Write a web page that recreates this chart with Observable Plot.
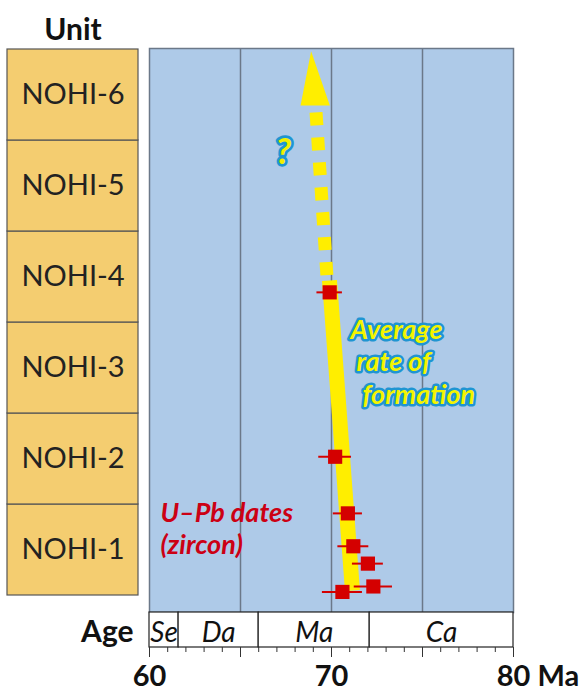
<!DOCTYPE html>
<html><head><meta charset="utf-8">
<script src="https://cdn.jsdelivr.net/npm/d3@7"></script>
<script src="https://cdn.jsdelivr.net/npm/@observablehq/plot@0.6"></script>
<style>
body{margin:0;background:#fff;}
#wrap{position:relative;width:587px;height:694px;font-family:Lato,sans-serif;}
#wrap svg{position:absolute;left:0;background:transparent;overflow:visible;}
</style></head><body><div id="wrap"></div>
<script>
// Stratigraphic units (bottom to top)
const units = ["NOHI-1","NOHI-2","NOHI-3","NOHI-4","NOHI-5","NOHI-6"];
// U–Pb zircon dates: age (Ma), error (Ma), stratigraphic level (unit index)
const dateAge   = [69.9, 70.2, 70.9, 71.2, 72.0, 72.3, 70.6];
const dateErr   = [0.7, 0.9, 0.8, 0.85, 0.85, 1.05, 1.1];
const dateLevel = [3.33, 1.53, 0.91, 0.55, 0.36, 0.11, 0.05];
// Average rate of formation (solid part, dashed extrapolation, arrow head)
const trendAge = [71.15, 69.89];
const trendLevel = [0.066, 3.46];
const dashAge = [69.15, 69.76];
const dashLevel = [5.30, 3.48];
const arrowAge = [68.88, 68.30, 69.91];
const arrowLevel = [5.97, 5.376, 5.376];
// Geologic stages along the age bar
const periodName = ["Se","Da","Ma","Ca"];
const periodStart = [60, 61.6, 66.0, 72.1];
const periodEnd = [61.6, 66.0, 72.1, 80];
// Axis
const majorTicks = [60,65,70,75,80];
const majorLabels = ["60","","70","","80"];
const minorTicks = [60,61,62,63,64,65,66,67,68,69,70,71,72,73,74,75,76,77,78,79,80];
const gridAges = [65,70,75];
// Annotations
const noteText = ["Average\n rate of\n  formation"];
const noteAge = [71.05];
const noteLevel = [2.58];
const redText = ["U\u2013Pb dates\n(zircon)"];
const redAge = [60.6];
const redLevel = [0.755];
const qText = ["?"];
const qAge = [67.36];
const qLevel = [4.86];

const dates = dateAge.map((a,i)=>({age:a, err:dateErr[i], level:dateLevel[i]}));
const trend = trendAge.map((a,i)=>({age:a, level:trendLevel[i]}));
const dash = dashAge.map((a,i)=>({age:a, level:dashLevel[i]}));
const arrow = arrowAge.map((a,i)=>({age:a, level:arrowLevel[i]}));
const periods = periodName.map((n,i)=>({name:n, start:periodStart[i], end:periodEnd[i]}));
const notes = noteText.map((t,i)=>({text:t, age:noteAge[i], level:noteLevel[i]}));
const reds = redText.map((t,i)=>({text:t, age:redAge[i], level:redLevel[i]}));
const qs = qText.map((t,i)=>({text:t, age:qAge[i], level:qLevel[i]}));

const blue = "#aecae8", grid = "#6b7889", yellow = "#ffee00", red = "#d40000";
const font = "Lato, sans-serif";

const main = Plot.plot({
  width: 587, height: 612,
  marginLeft: 149, marginRight: 74, marginTop: 48, marginBottom: 0,
  x: {domain: [60, 80], axis: null},
  y: {domain: [0, 6], insetBottom: 16, axis: null},
  style: {background: "transparent", fontFamily: font},
  marks: [
    Plot.frame({fill: blue}),
    Plot.ruleX(gridAges, {stroke: grid, strokeWidth: 1.5}),
    Plot.frame({stroke: grid, strokeWidth: 1.5}),
    Plot.line(trend, {x: "age", y: "level", stroke: yellow, strokeWidth: 15, strokeLinecap: "butt"}),
    Plot.line(dash, {x: "age", y: "level", stroke: yellow, strokeWidth: 13, strokeLinecap: "butt", strokeDasharray: "13,12"}),
    Plot.line(arrow, {x: "age", y: "level", fill: yellow, stroke: "none", curve: "linear-closed"}),
    Plot.ruleY(dates, {y: "level", x1: d => d.age - d.err, x2: d => d.age + d.err, stroke: red, strokeWidth: 2}),
    Plot.dot(dates, {x: "age", y: "level", symbol: "square", r: 8, fill: red}),
    Plot.text(qs, {x: "age", y: "level", text: "text", fontSize: 36, fontWeight: "bold", fontStyle: "italic",
      fill: "#f2f000", stroke: "#1f95d2", strokeWidth: 5.5, paintOrder: "stroke", strokeLinejoin: "round"}),
    Plot.text(notes, {x: "age", y: "level", text: "text", textAnchor: "start", lineHeight: 1.2, fontSize: 27, fontWeight: "bold", fontStyle: "italic",
      fill: "#f4f400", stroke: "#1f95d2", strokeWidth: 5, paintOrder: "stroke", strokeLinejoin: "round"}),
    Plot.text(reds, {x: "age", y: "level", text: "text", textAnchor: "start", lineHeight: 1.2, fontSize: 27, fontWeight: "bold", fontStyle: "italic",
      fill: "#cc0014"})
  ]
});
main.style.top = "0px";

const left = Plot.plot({
  width: 149, height: 694,
  marginLeft: 7, marginRight: 11, marginTop: 48, marginBottom: 98,
  y: {type: "band", domain: units.slice().reverse(), padding: 0, axis: null},
  style: {background: "transparent", fontFamily: font},
  marks: [
    Plot.cell(units, {y: d => d, fill: "#f4cd70", stroke: "#555", strokeWidth: 1.2}),
    Plot.text(units, {y: d => d, text: d => d, fontSize: 29, fill: "#222"}),
    Plot.text(["Unit"], {frameAnchor: "top", lineAnchor: "middle", dy: -18, text: d => d, fontSize: 30, fontWeight: "bold", fill: "#111"})
  ]
});
left.style.top = "0px";

const ageBar = Plot.plot({
  width: 587, height: 82,
  marginLeft: 149, marginRight: 74, marginTop: 0, marginBottom: 47,
  x: {domain: [60, 80]},
  style: {background: "transparent", fontFamily: font},
  marks: [
    Plot.rect(periods, {x1: "start", x2: "end", fill: "white", stroke: "#222", strokeWidth: 1.2}),
    Plot.text(periods, {x: d => (d.start + d.end) / 2, text: "name", fontSize: 28, fontStyle: "italic", fill: "#111", dy: 3}),
    Plot.axisX({ticks: minorTicks, tickSize: 5, tickFormat: () => "", stroke: "#333"}),
    Plot.axisX({ticks: majorTicks, tickSize: 10, tickPadding: 8, stroke: "#333",
      tickFormat: (d) => majorLabels[majorTicks.indexOf(d)], fontSize: 29, fontWeight: "bold", fill: "#111"}),
    Plot.text(["Ma"], {x: () => 80, text: d => d, frameAnchor: "bottom", lineAnchor: "top", textAnchor: "start",
      dx: 24, dy: 18, fontSize: 29, fontWeight: "bold", fill: "#111"}),
    Plot.text(["Age"], {frameAnchor: "left", text: d => d, textAnchor: "end", dx: -16, dy: 2, fontSize: 30, fontWeight: "bold", fill: "#111"})
  ]
});
ageBar.style.top = "612px";

const wrap = document.getElementById("wrap");
wrap.appendChild(main);
wrap.appendChild(ageBar);
wrap.appendChild(left);
</script></body></html>
